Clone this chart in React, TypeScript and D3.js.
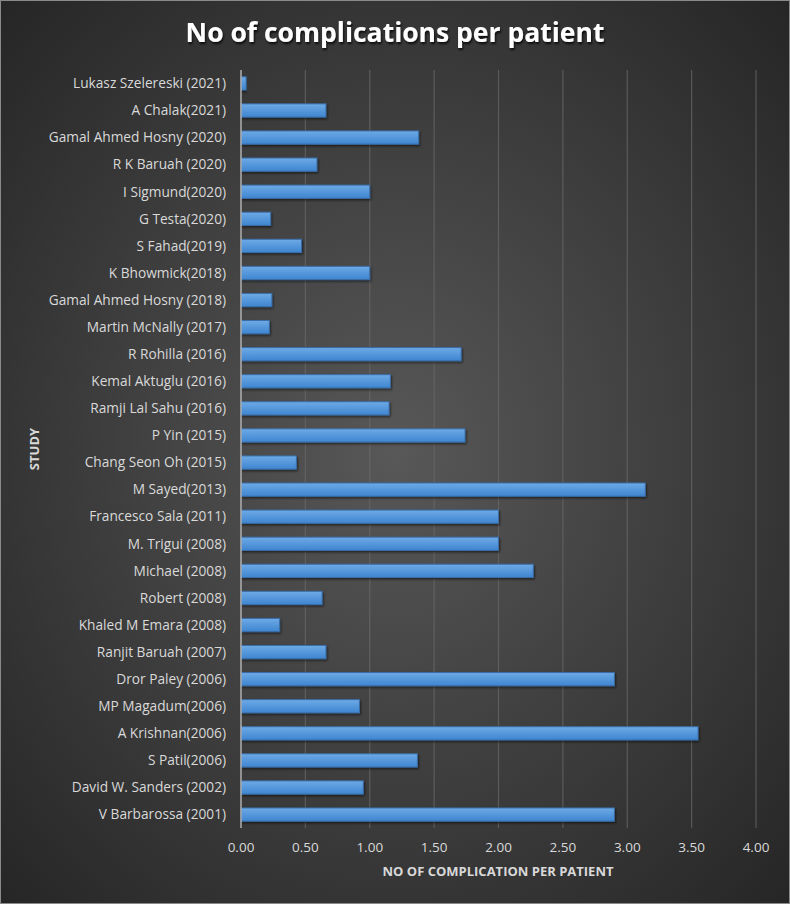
import React from "react";
import * as d3 from "d3";

const studies: string[] = [
  "Lukasz Szelereski (2021)",
  "A Chalak(2021)",
  "Gamal Ahmed Hosny (2020)",
  "R K Baruah (2020)",
  "I Sigmund(2020)",
  "G Testa(2020)",
  "S Fahad(2019)",
  "K Bhowmick(2018)",
  "Gamal Ahmed Hosny (2018)",
  "Martin McNally (2017)",
  "R Rohilla (2016)",
  "Kemal Aktuglu (2016)",
  "Ramji Lal Sahu (2016)",
  "P Yin (2015)",
  "Chang Seon Oh (2015)",
  "M Sayed(2013)",
  "Francesco Sala (2011)",
  "M. Trigui (2008)",
  "Michael (2008)",
  "Robert (2008)",
  "Khaled M Emara (2008)",
  "Ranjit Baruah (2007)",
  "Dror Paley (2006)",
  "MP Magadum(2006)",
  "A Krishnan(2006)",
  "S Patil(2006)",
  "David W. Sanders (2002)",
  "V Barbarossa (2001)",
];

const values: number[] = [
  0.04, 0.66, 1.38, 0.59, 1.0, 0.23, 0.47, 1.0, 0.24, 0.22, 1.71, 1.16, 1.15,
  1.74, 0.43, 3.14, 2.0, 2.0, 2.27, 0.63, 0.3, 0.66, 2.9, 0.92, 3.55, 1.37,
  0.95, 2.9,
];

const xTicks: number[] = [0, 0.5, 1, 1.5, 2, 2.5, 3, 3.5, 4];

const title = "No of complications per patient";
const xTitle = "NO OF COMPLICATION PER PATIENT";
const yTitle = "STUDY";

const W = 790;
const H = 904;
const FONT = "'Open Sans', 'Noto Sans', sans-serif";

export default function App() {
  const plotLeft = 241;
  const plotRight = 756;
  const plotTop = 70;
  const plotBottom = 828;

  const x = d3.scaleLinear().domain([0, 4]).range([plotLeft, plotRight]);
  const y = d3
    .scaleBand<string>()
    .domain(studies)
    .range([plotTop, plotBottom])
    .paddingInner(0.51)
    .paddingOuter(0.25);

  const bh = y.bandwidth();

  return (
    <svg
      width={W}
      height={H}
      style={{ position: "absolute", left: 0, top: 0, display: "block" }}
    >
      <defs>
        <radialGradient id="bg" cx="50%" cy="50%" r="70%">
          <stop offset="0%" stopColor="#585858" />
          <stop offset="100%" stopColor="#262626" />
        </radialGradient>
        <linearGradient id="bar" x1="0" y1="0" x2="0" y2="1">
          <stop offset="0%" stopColor="#6eaae6" />
          <stop offset="100%" stopColor="#3e85d0" />
        </linearGradient>
        <filter id="shadow" x="-10%" y="-50%" width="120%" height="220%">
          <feDropShadow dx="1" dy="1.5" stdDeviation="1" floodColor="#000" floodOpacity="0.55" />
        </filter>
        <filter id="tshadow" x="-5%" y="-20%" width="110%" height="160%">
          <feDropShadow dx="1" dy="2" stdDeviation="1.2" floodColor="#000" floodOpacity="0.8" />
        </filter>
      </defs>
      <rect x={0} y={0} width={W} height={H} fill="url(#bg)" />
      <rect x={0.5} y={0.5} width={W - 1} height={H - 1} fill="none" stroke="#8a8a8a" strokeWidth={1} />

      <text
        x={395}
        y={42}
        textAnchor="middle"
        fill="#ffffff"
        fontFamily={FONT}
        fontWeight="bold"
        fontSize={26.5}
        filter="url(#tshadow)"
      >
        {title}
      </text>

      {xTicks.map((t) =>
        t === 0 ? null : (
          <line
            key={"g" + t}
            x1={x(t)}
            x2={x(t)}
            y1={plotTop}
            y2={plotBottom}
            stroke="#6a6a6a"
            strokeOpacity={0.7}
            strokeWidth={1.2}
          />
        )
      )}

      {studies.map((s, i) => (
        <rect
          key={s}
          x={x(0)}
          y={y(s)!}
          width={x(values[i]) - x(0)}
          height={bh}
          fill="url(#bar)"
          stroke="#3a6da6"
          strokeWidth={1}
          filter="url(#shadow)"
        />
      ))}

      <line x1={x(0)} x2={x(0)} y1={plotTop} y2={plotBottom} stroke="#b0b0b0" strokeWidth={1.5} />

      {studies.map((s) => (
        <text
          key={"l" + s}
          x={226}
          y={y(s)! + bh / 2}
          dy="0.35em"
          textAnchor="end"
          fill="#d9d9d9"
          fontFamily={FONT}
          fontSize={13.7}
        >
          {s}
        </text>
      ))}

      {xTicks.map((t) => (
        <text
          key={"t" + t}
          x={x(t)}
          y={852}
          textAnchor="middle"
          fill="#d9d9d9"
          fontFamily={FONT}
          fontSize={13.5}
        >
          {d3.format(".2f")(t)}
        </text>
      ))}

      <text
        x={498}
        y={876}
        textAnchor="middle"
        fill="#d9d9d9"
        fontFamily={FONT}
        fontWeight="bold"
        fontSize={13}
      >
        {xTitle}
      </text>

      <text
        transform={`translate(39, ${(plotTop + plotBottom) / 2}) rotate(-90)`}
        textAnchor="middle"
        fill="#d9d9d9"
        fontFamily={FONT}
        fontWeight="bold"
        fontSize={13}
      >
        {yTitle}
      </text>
    </svg>
  );
}
